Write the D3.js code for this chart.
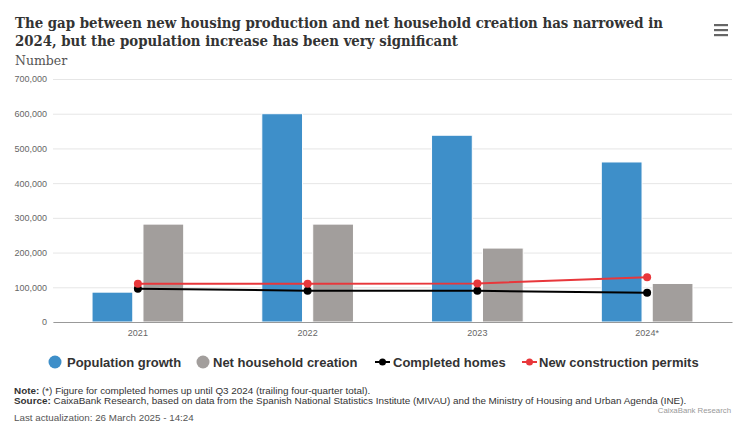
<!DOCTYPE html>
<html>
<head>
<meta charset="utf-8">
<script src="https://cdn.jsdelivr.net/npm/d3@7"></script>
<style>
  body { margin: 0; background: #fff; }
  svg { display: block; }
</style>
</head>
<body>
<div id="chart"></div>
<script>
// --- data ---
const years = ["2021", "2022", "2023", "2024*"];
const populationGrowth = [86000, 600000, 538000, 461000];
const netHouseholds = [282000, 282000, 213000, 111000];
const completedHomes = [96000, 90000, 90000, 84000];
const newPermits = [110000, 110000, 111000, 129000];
const yTicks = [0, 100000, 200000, 300000, 400000, 500000, 600000, 700000];

const W = 737, H = 426;
const plot = { left: 53, right: 732, top: 79, bottom: 322 };

const svg = d3.select("#chart").append("svg")
  .attr("width", W).attr("height", H);

// title (widths forced to match the original lines)
const title = svg.append("g")
  .attr("font-family", "'DejaVu Serif', serif")
  .attr("font-weight", "bold")
  .attr("font-size", 14.5)
  .attr("fill", "#333");
title.append("text").attr("x", 15).attr("y", 28)
  .attr("textLength", 648).attr("lengthAdjust", "spacingAndGlyphs")
  .text("The gap between new housing production and net household creation has narrowed in");
title.append("text").attr("x", 15).attr("y", 46)
  .attr("textLength", 443).attr("lengthAdjust", "spacingAndGlyphs")
  .text("2024, but the population increase has been very significant");

svg.append("text")
  .attr("x", 15).attr("y", 65)
  .attr("font-family", "'DejaVu Serif', serif")
  .attr("font-size", 12.5)
  .attr("fill", "#555")
  .text("Number");

// hamburger menu
[25, 30, 35].forEach(y => {
  svg.append("rect").attr("x", 714).attr("y", y - 1).attr("width", 14).attr("height", 2.2)
    .attr("fill", "#666");
});

// scales
const x0 = d3.scaleBand().domain(years).range([plot.left, plot.right]).padding(0);
const bw = x0.bandwidth();
const x1 = d3.scaleBand().domain(["pop", "hh"])
  .range([0.2 * bw, 0.8 * bw]).paddingInner(0.2).paddingOuter(0.1);
const y = d3.scaleLinear().domain([0, 700000]).range([plot.bottom, plot.top]);

// grid + y labels
const yAxis = svg.append("g")
  .attr("transform", `translate(${plot.left},0)`)
  .call(d3.axisLeft(y).tickValues(yTicks).tickSize(-(plot.right - plot.left))
    .tickFormat(d3.format(",")).tickPadding(6));
yAxis.select(".domain").remove();
yAxis.selectAll("line").attr("stroke", "#e6e6e6");
yAxis.selectAll("text")
  .attr("font-family", "'Liberation Sans', Arial, sans-serif")
  .attr("font-size", 9).attr("fill", "#666");

// bars
const barData = years.flatMap((yr, i) => [
  { yr, key: "pop", v: populationGrowth[i], c: "#3e8fc9" },
  { yr, key: "hh", v: netHouseholds[i], c: "#a29e9c" }
]);
svg.append("g").selectAll("rect").data(barData).join("rect")
  .attr("x", d => x0(d.yr) + x1(d.key))
  .attr("y", d => y(d.v))
  .attr("width", x1.bandwidth())
  .attr("height", d => y(0) - y(d.v))
  .attr("fill", d => d.c)
  .attr("stroke", "#fff").attr("stroke-width", 1);

// x axis
const xAxis = svg.append("g")
  .attr("transform", `translate(0,${plot.bottom})`)
  .call(d3.axisBottom(x0).tickSize(0).tickPadding(8));
xAxis.select(".domain").attr("stroke", "#999");
xAxis.selectAll("text")
  .attr("font-family", "'Liberation Sans', Arial, sans-serif")
  .attr("font-size", 9).attr("fill", "#666");

// lines
const cx = yr => x0(yr) + bw / 2;
const line = d3.line().x(d => cx(d.yr)).y(d => y(d.v));
const lineSeries = [
  { vals: completedHomes, c: "#000" },
  { vals: newPermits, c: "#e8373b" }
];
lineSeries.forEach(s => {
  const pts = years.map((yr, i) => ({ yr, v: s.vals[i] }));
  svg.append("path").datum(pts).attr("d", line)
    .attr("fill", "none").attr("stroke", s.c).attr("stroke-width", 2);
  svg.append("g").selectAll("circle").data(pts).join("circle")
    .attr("cx", d => cx(d.yr)).attr("cy", d => y(d.v)).attr("r", 4)
    .attr("fill", s.c);
});

// legend
const lg = svg.append("g")
  .attr("font-family", "'Liberation Sans', Arial, sans-serif")
  .attr("font-size", 13).attr("font-weight", "bold").attr("fill", "#333");
const legY = 362;
lg.append("circle").attr("cx", 55).attr("cy", legY).attr("r", 6.5).attr("fill", "#3e8fc9");
lg.append("text").attr("x", 67).attr("y", legY + 5).text("Population growth");
lg.append("circle").attr("cx", 203).attr("cy", legY).attr("r", 6.5).attr("fill", "#a29e9c");
lg.append("text").attr("x", 213).attr("y", legY + 5).text("Net household creation");
lg.append("line").attr("x1", 375).attr("x2", 390).attr("y1", legY).attr("y2", legY)
  .attr("stroke", "#000").attr("stroke-width", 2);
lg.append("circle").attr("cx", 382.5).attr("cy", legY).attr("r", 3.5).attr("fill", "#000");
lg.append("text").attr("x", 393).attr("y", legY + 5).text("Completed homes");
lg.append("line").attr("x1", 522).attr("x2", 537).attr("y1", legY).attr("y2", legY)
  .attr("stroke", "#e8373b").attr("stroke-width", 2);
lg.append("circle").attr("cx", 529.5).attr("cy", legY).attr("r", 3.5).attr("fill", "#e8373b");
lg.append("text").attr("x", 539).attr("y", legY + 5).text("New construction permits");

// notes
const notes = svg.append("g")
  .attr("font-family", "'Liberation Sans', Arial, sans-serif")
  .attr("font-size", 9.9)
  .attr("fill", "#333");
const n1 = notes.append("text").attr("x", 14).attr("y", 394);
n1.append("tspan").attr("font-weight", "bold").text("Note:");
n1.append("tspan").text(" (*) Figure for completed homes up until Q3 2024 (trailing four-quarter total).");
const n2 = notes.append("text").attr("x", 14).attr("y", 404);
n2.append("tspan").attr("font-weight", "bold").text("Source:");
n2.append("tspan").text(" CaixaBank Research, based on data from the Spanish National Statistics Institute (MIVAU) and the Ministry of Housing and Urban Agenda (INE).");

svg.append("text").attr("x", 14).attr("y", 421)
  .attr("font-family", "'Liberation Sans', Arial, sans-serif")
  .attr("font-size", 9.8).attr("fill", "#555")
  .text("Last actualization: 26 March 2025 - 14:24");

svg.append("text").attr("x", 731).attr("y", 413).attr("text-anchor", "end")
  .attr("font-family", "'Liberation Sans', Arial, sans-serif")
  .attr("font-size", 7.8).attr("fill", "#999")
  .text("CaixaBank Research");
</script>
</body>
</html>
